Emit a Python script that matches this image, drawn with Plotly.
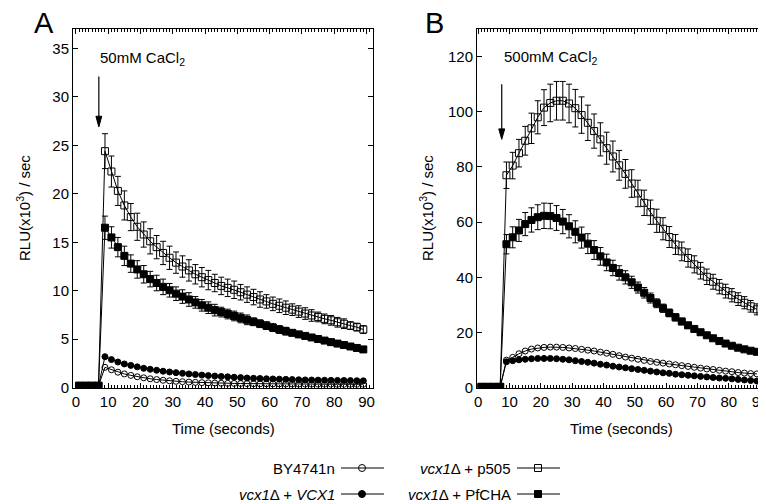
import plotly.graph_objects as go

# sampling times (seconds), CaCl2 injected just after 7 s
TIME = [1, 3, 5, 7, 9, 11, 13, 15, 17, 19, 21, 23, 25, 27, 29, 31, 33, 35, 37, 39,
        41, 43, 45, 47, 49, 51, 53, 55, 57, 59, 61, 63, 65, 67, 69, 71, 73, 75, 77, 79,
        81, 83, 85, 87, 89]

# Panel A - 50mM CaCl2  (RLU x10^3 / sec)
A_BY4741N = [0.2, 0.2, 0.2, 0.2,
             2.1, 1.85, 1.6, 1.42, 1.27, 1.13, 1.02, 0.92, 0.84, 0.77,
             0.71, 0.66, 0.62, 0.58, 0.55, 0.52, 0.5, 0.48, 0.46, 0.45,
             0.44, 0.43, 0.42, 0.41, 0.4, 0.4, 0.39, 0.39, 0.38, 0.38,
             0.37, 0.37, 0.37, 0.36, 0.36, 0.36, 0.35, 0.35, 0.35, 0.35, 0.35]
A_VCX1 = [0.2, 0.2, 0.2, 0.2,
          3.2, 2.9, 2.65, 2.45, 2.3, 2.15, 2.0, 1.9, 1.8, 1.7,
          1.62, 1.55, 1.48, 1.42, 1.36, 1.3, 1.25, 1.2, 1.16, 1.12,
          1.08, 1.04, 1.0, 0.97, 0.95, 0.92, 0.9, 0.88, 0.86, 0.84,
          0.82, 0.8, 0.79, 0.78, 0.77, 0.76, 0.75, 0.74, 0.73, 0.72, 0.71]
A_P505 = [0.2, 0.2, 0.2, 0.2,
          24.4, 22.3, 20.3, 18.8, 17.6, 16.6, 15.8, 15.1, 14.5, 13.9,
          13.4, 12.9, 12.5, 12.1, 11.7, 11.4, 11.1, 10.8, 10.5, 10.3,
          10.1, 9.85, 9.6, 9.35, 9.1, 8.9, 8.65, 8.45, 8.25, 8.05,
          7.85, 7.65, 7.45, 7.3, 7.1, 6.95, 6.75, 6.6, 6.4, 6.25, 6.0]
A_P505_ERR = [0, 0, 0, 0,
              1.8, 1.6, 1.5, 1.5, 1.4, 1.4, 1.3, 1.3, 1.2, 1.2,
              1.2, 1.1, 1.1, 1.1, 1.0, 1.0, 1.0, 0.9, 0.9, 0.9,
              0.9, 0.8, 0.8, 0.8, 0.8, 0.7, 0.7, 0.7, 0.7, 0.6,
              0.6, 0.6, 0.6, 0.5, 0.5, 0.5, 0.5, 0.5, 0.4, 0.4, 0.4]
A_PFCHA = [0.2, 0.2, 0.2, 0.2,
           16.5, 15.5, 14.5, 13.6, 12.8, 12.2, 11.7, 11.2, 10.8, 10.4,
           10.05, 9.7, 9.4, 9.1, 8.8, 8.5, 8.25, 8.0, 7.8, 7.6,
           7.4, 7.2, 7.0, 6.8, 6.6, 6.4, 6.2, 6.0, 5.83, 5.66,
           5.5, 5.34, 5.18, 5.02, 4.86, 4.7, 4.55, 4.4, 4.25, 4.1, 3.95]
A_PFCHA_ERR = [0, 0, 0, 0,
               1.2, 1.1, 1.0, 1.0, 0.9, 0.9, 0.9, 0.8, 0.8, 0.8,
               0.7, 0.7, 0.7, 0.7, 0.6, 0.6, 0.6, 0.6, 0.5, 0.5,
               0.5, 0.5, 0.5, 0.4, 0.4, 0.4, 0.4, 0.4, 0.4, 0.3,
               0.3, 0.3, 0.3, 0.3, 0.3, 0.3, 0.3, 0.3, 0.3, 0.3, 0.3]

# Panel B - 500mM CaCl2
B_BY4741N = [0.3, 0.3, 0.3, 0.3,
             10.0, 11.0, 12.3, 13.3, 14.0, 14.4, 14.6, 14.7, 14.7, 14.6,
             14.4, 14.2, 13.9, 13.6, 13.3, 12.9, 12.5, 12.1, 11.6, 11.1,
             10.7, 10.3, 9.9, 9.5, 9.2, 8.9, 8.6, 8.3, 8.0, 7.7,
             7.4, 7.1, 6.8, 6.6, 6.3, 6.0, 5.8, 5.5, 5.3, 5.1, 5.0]
B_VCX1 = [0.3, 0.3, 0.3, 0.3,
          9.4, 9.8, 10.1, 10.3, 10.5, 10.6, 10.6, 10.6, 10.5, 10.3,
          10.1, 9.8, 9.5, 9.2, 8.9, 8.5, 8.2, 7.8, 7.5, 7.2,
          6.9, 6.6, 6.3, 6.0, 5.7, 5.4, 5.2, 4.9, 4.7, 4.5,
          4.3, 4.1, 3.9, 3.7, 3.5, 3.4, 3.2, 3.0, 2.8, 2.6, 2.4]
B_P505 = [0.3, 0.3, 0.3, 0.3,
          77.0, 80.5, 85.0, 89.5, 94.0, 98.0, 101.5, 103.2, 104.0, 104.0,
          103.0, 101.3, 98.8, 96.0, 93.0, 90.0, 86.8, 83.8, 80.6, 77.5,
          74.0, 70.4, 67.0, 63.6, 60.5, 57.6, 54.6, 51.9, 49.4, 47.0,
          44.7, 42.4, 40.2, 38.4, 36.6, 35.0, 33.5, 32.1, 30.8, 29.5, 28.4]
B_P505_ERR = [0, 0, 0, 0,
              4.8, 4.8, 5.0, 5.2, 5.5, 6.0, 6.5, 6.8, 7.0, 7.0,
              7.0, 6.8, 6.6, 6.4, 6.2, 6.0, 5.8, 5.6, 5.4, 5.2,
              5.0, 4.8, 4.6, 4.4, 4.2, 4.0, 3.8, 3.6, 3.4, 3.3,
              3.1, 3.0, 2.8, 2.7, 2.6, 2.5, 2.4, 2.3, 2.2, 2.1, 2.0]
B_PFCHA = [0.3, 0.3, 0.3, 0.3,
           52.0, 54.5, 57.0, 59.3, 60.8, 61.8, 62.3, 62.2, 61.5, 60.2,
           58.5, 56.5, 54.4, 52.2, 49.9, 47.6, 45.4, 43.4, 41.6, 40.0,
           38.2, 36.3, 34.4, 32.5, 30.6, 28.8, 27.1, 25.5, 24.0, 22.6,
           21.3, 20.1, 19.0, 17.9, 16.9, 16.0, 15.2, 14.5, 13.9, 13.4, 13.0]
B_PFCHA_ERR = [0, 0, 0, 0,
               3.5, 3.8, 4.0, 4.2, 4.4, 4.5, 4.6, 4.6, 4.5, 4.4,
               4.2, 4.0, 3.8, 3.6, 3.4, 3.2, 3.0, 2.8, 2.6, 2.4,
               2.2, 2.0, 1.9, 1.8, 1.6, 1.5, 1.4, 1.3, 1.2, 1.1,
               1.0, 1.0, 0.9, 0.9, 0.9, 0.8, 0.8, 0.8, 0.8, 0.8, 0.8]

X_TICKS = [0, 10, 20, 30, 40, 50, 60, 70, 80, 90]

W, H = 766, 504
PAGE_OFFSET = 8  # default body margin of the page around the plot div
FONT = "Liberation Sans, Arial, Helvetica, sans-serif"


def fx(p):
    """page pixel x -> paper"""
    return (p - PAGE_OFFSET) / W


def fy(p):
    """page pixel y (from top) -> paper"""
    return 1 - (p - PAGE_OFFSET) / H


def add_series(fig, xa, ya, y, symbol, size, err=None):
    fig.add_trace(go.Scatter(
        x=TIME, y=y, xaxis=xa, yaxis=ya, mode="lines+markers",
        line=dict(color="black", width=1),
        marker=dict(symbol=symbol, size=size, color="black",
                    line=dict(color="black", width=1)),
        error_y=dict(type="data", array=err if err else [0] * len(y),
                     visible=err is not None, color="black", thickness=1, width=3),
        showlegend=False, hoverinfo="skip"))


def add_arrow(fig, xa, ya, x, y_tail, y_head, head_w, head_h):
    """vertical downward arrow drawn with shapes (in data units of the panel)"""
    fig.add_shape(type="line", xref=xa, yref=ya, x0=x, x1=x, y0=y_tail, y1=y_head + head_h * 0.5,
                  line=dict(color="black", width=1.2))
    fig.add_shape(type="path", xref=xa, yref=ya,
                  path=f"M {x - head_w},{y_head + head_h} L {x},{y_head} L {x + head_w},{y_head + head_h} Z",
                  fillcolor="black", line=dict(color="black", width=1))


fig = go.Figure()

# Panel A
add_series(fig, "x", "y", A_P505, "square-open", 7, A_P505_ERR)
add_series(fig, "x", "y", A_PFCHA, "square", 7, A_PFCHA_ERR)
add_series(fig, "x", "y", A_BY4741N, "circle-open", 6)
add_series(fig, "x", "y", A_VCX1, "circle", 6)

# Panel B
add_series(fig, "x2", "y2", B_P505, "square-open", 7, B_P505_ERR)
add_series(fig, "x2", "y2", B_PFCHA, "square", 7, B_PFCHA_ERR)
add_series(fig, "x2", "y2", B_BY4741N, "circle-open", 6)
add_series(fig, "x2", "y2", B_VCX1, "circle", 6)

axis_common = dict(showline=True, linecolor="black", linewidth=1, mirror="ticks",
                   ticks="inside", ticklen=5, tickcolor="black", tickwidth=1,
                   showgrid=False, zeroline=False, automargin=False,
                   tickfont=dict(family=FONT, size=15, color="black"))
minor_x = dict(dtick=1, ticks="inside", ticklen=2.5, tickcolor="black", tickwidth=1, showgrid=False)

ydom = [fy(387.7), fy(29)]
fig.update_layout(
    width=W, height=H,
    margin=dict(l=0, r=0, t=0, b=0, autoexpand=False),
    paper_bgcolor="white", plot_bgcolor="white",
    font=dict(family=FONT, size=15, color="black"),
    showlegend=False,
    xaxis=dict(domain=[fx(73), fx(373)], range=[-0.9, 92], tickvals=X_TICKS,
               minor=minor_x, anchor="y", **axis_common),
    yaxis=dict(domain=ydom, range=[0, 37], dtick=5, anchor="x", **axis_common),
    xaxis2=dict(domain=[fx(477), fx(766)], range=[-0.4, 91.9], tickvals=X_TICKS,
                minor=minor_x, anchor="y2", **axis_common),
    yaxis2=dict(domain=ydom, range=[0, 130], dtick=20, anchor="x2", **axis_common),
)

# Panel letters, axis titles, injection labels
notes = [
    dict(text="A", x=fx(44), y=fy(23), xref="paper", yref="paper", font=dict(size=29)),
    dict(text="B", x=fx(434), y=fy(23), xref="paper", yref="paper", font=dict(size=29)),
    dict(text="RLU(x10<sup>3</sup>) / sec", x=fx(24), y=fy(208), xref="paper", yref="paper", textangle=-90),
    dict(text="RLU(x10<sup>3</sup>) / sec", x=fx(427), y=fy(208), xref="paper", yref="paper", textangle=-90),
    dict(text="Time (seconds)", x=fx(223), y=fy(428), xref="paper", yref="paper"),
    dict(text="Time (seconds)", x=fx(621), y=fy(428), xref="paper", yref="paper"),
    dict(text="50mM CaCl<sub>2</sub>", x=6.8, y=34.0, xref="x", yref="y", xanchor="left"),
    dict(text="500mM CaCl<sub>2</sub>", x=7.6, y=119.5, xref="x2", yref="y2", xanchor="left"),
]
for n in notes:
    n.setdefault("showarrow", False)
    n.setdefault("xanchor", "center")
    n.setdefault("yanchor", "middle")
    fig.add_annotation(**n)

# injection arrows
add_arrow(fig, "x", "y", 7.1, 32.1, 26.9, 0.9, 1.1)
add_arrow(fig, "x2", "y2", 7.5, 110.0, 90.0, 0.95, 3.8)

# Legend drawn by hand: label, then a line sample with the marker in the middle
legend = [
    ("BY4741n", 337, 468, "circle", False),
    ("<i>vcx1</i>\u0394 + p505", 513, 468, "square", False),
    ("<i>vcx1</i>\u0394 + <i>VCX1</i>", 337, 494, "circle", True),
    ("<i>vcx1</i>\u0394 + PfCHA", 513, 494, "square", True),
]
for label, xr, yc, shape, filled in legend:
    fig.add_annotation(text=label, x=fx(xr), y=fy(yc), xref="paper", yref="paper",
                       xanchor="right", yanchor="middle", showarrow=False, font=dict(size=15))
    fig.add_shape(type="line", xref="paper", yref="paper", x0=fx(xr + 4), x1=fx(xr + 47),
                  y0=fy(yc), y1=fy(yc), line=dict(color="black", width=1))
    fig.add_shape(type="circle" if shape == "circle" else "rect",
                  xref="paper", yref="paper", xsizemode="pixel", ysizemode="pixel",
                  xanchor=fx(xr + 25), yanchor=fy(yc), x0=-3.5, x1=3.5, y0=-3.5, y1=3.5,
                  line=dict(color="black", width=1),
                  fillcolor="black" if filled else "rgba(0,0,0,0)")

fig.write_html("out.html")
